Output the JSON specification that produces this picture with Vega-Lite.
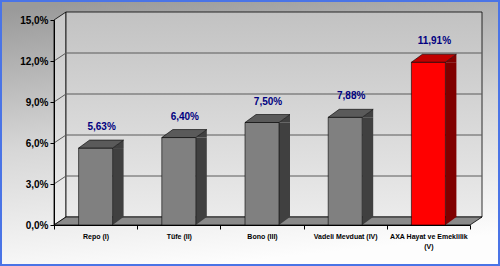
{
  "$schema": "https://vega.github.io/schema/vega-lite/v6.json",
  "width": 416,
  "height": 205,
  "autosize": {"type": "none"},
  "padding": {"left": 54, "top": 20, "right": 30, "bottom": 41},
  "background": "#ffffff",
  "config": {"view": {"stroke": null}},
  "datasets": {
    "getiri": [
      {"kategori": "Repo (I)", "getiri": 5.63},
      {"kategori": "Tüfe (II)", "getiri": 6.40},
      {"kategori": "Bono (III)", "getiri": 7.50},
      {"kategori": "Vadeli Mevduat (IV)", "getiri": 7.88},
      {"kategori": "AXA Hayat ve Emeklilik (V)", "getiri": 11.91}
    ],
    "cizgiler": [
      {"deger": 0}, {"deger": 3}, {"deger": 6}, {"deger": 9}, {"deger": 12}, {"deger": 15}
    ]
  },
  "encoding": {
    "y": {
      "field": "deger", "type": "quantitative",
      "scale": {"domain": [0, 15], "nice": false},
      "axis": {
        "title": null, "values": [0, 3, 6, 9, 12, 15], "grid": false, "tickSize": 4,
        "tickColor": "#000000", "domainColor": "#000000", "labelFont": "Liberation Sans",
        "labelFontWeight": "bold", "labelFontSize": 10, "labelColor": "#000000", "labelPadding": 2,
        "zindex": 1,
        "labelExpr": "replace(format(datum.value, '.1f'), '.', ',') + '%'"
      }
    }
  },
  "layer": [
    {
      "data": {"name": "cizgiler"},
      "transform": [{"filter": "datum.deger == 0"}],
      "mark": {
        "type": "point", "shape": "M -54 -225 H 446 V 41 H -54 Z", "size": 4, "filled": true, "opacity": 1,
        "fill": {"gradient": "linear", "x1": 0.2, "y1": 0, "x2": 0.4, "y2": 1,
          "stops": [{"offset": 0, "color": "#9a9a9a"}, {"offset": 0.5, "color": "#d6d6d6"}, {"offset": 1, "color": "#fdfdfd"}]},
        "stroke": "#4a74e6", "strokeWidth": 4
      },
      "encoding": {"x": {"value": 0}}
    },
    {
      "data": {"name": "cizgiler"},
      "transform": [{"filter": "datum.deger == 0"}],
      "mark": {
        "type": "point", "shape": "M 0 0 V -205 L 12 -213 V -8 Z", "size": 4, "filled": true, "opacity": 1,
        "fill": {"gradient": "linear", "x1": 0, "y1": 0, "x2": 0, "y2": 1,
          "stops": [{"offset": 0, "color": "#c8c8c8"}, {"offset": 1, "color": "#efefef"}]},
        "stroke": "#000000", "strokeWidth": 0.8
      },
      "encoding": {"x": {"value": 0}}
    },
    {
      "data": {"name": "cizgiler"},
      "transform": [{"filter": "datum.deger == 0"}],
      "mark": {
        "type": "point", "shape": "M 12 -8 V -213 H 428 V -8 Z", "size": 4, "filled": true, "opacity": 1,
        "fill": {"gradient": "linear", "x1": 0, "y1": 0, "x2": 0, "y2": 1,
          "stops": [{"offset": 0, "color": "#c2c2c2"}, {"offset": 1, "color": "#ebebeb"}]},
        "stroke": "#000000", "strokeWidth": 0.8
      },
      "encoding": {"x": {"value": 0}}
    },
    {
      "data": {"name": "cizgiler"},
      "transform": [{"filter": "datum.deger == 0"}],
      "mark": {
        "type": "point", "shape": "M 0 0 H 416 L 428 -8 H 12 Z", "size": 4, "filled": true, "opacity": 1,
        "fill": "#8a8a8a", "stroke": "#000000", "strokeWidth": 0.8
      },
      "encoding": {"x": {"value": 0}}
    },
    {
      "data": {"name": "cizgiler"},
      "transform": [{"filter": "datum.deger > 0 && datum.deger < 15"}],
      "mark": {
        "type": "point", "shape": "M 0 0 L 12 -8 H 428", "size": 4, "filled": false, "opacity": 1,
        "stroke": "#5a5a5a", "strokeWidth": 1
      },
      "encoding": {"x": {"value": 0}}
    },
    {
      "data": {"name": "getiri"},
      "encoding": {
        "x": {
          "field": "kategori", "type": "nominal", "sort": null,
          "scale": {"paddingInner": 0, "paddingOuter": 0},
          "axis": {
            "title": null, "labelAngle": 0, "tickBand": "extent", "tickSize": 4, "tickColor": "#000000",
            "domainColor": "#000000", "labelFont": "Liberation Sans", "labelFontWeight": "bold",
            "labelFontSize": 7, "labelColor": "#000000", "labelPadding": 3, "labelLineHeight": 10,
            "labelLimit": 0, "zindex": 1,
            "labelExpr": "datum.value == 'AXA Hayat ve Emeklilik (V)' ? ['AXA Hayat ve Emeklilik', '(V)'] : datum.label"
          }
        },
        "y": {"field": "getiri", "type": "quantitative"}
      },
      "layer": [
        {
          "mark": {"type": "bar", "width": 11, "xOffset": 22.5, "y2Offset": -8},
          "encoding": {
            "y2": {"datum": 0},
            "fill": {"condition": {"test": "datum.kategori == 'AXA Hayat ve Emeklilik (V)'", "value": "#800000"}, "value": "#404040"}
          }
        },
        {
          "mark": {"type": "point", "shape": "M 17 0 L 28 -8 V 0 Z", "size": 4, "filled": true, "opacity": 1, "strokeWidth": 0},
          "encoding": {
            "fill": {"condition": {"test": "datum.kategori == 'AXA Hayat ve Emeklilik (V)'", "value": "#800000"}, "value": "#404040"}
          }
        },
        {
          "mark": {
            "type": "point", "shape": "M 17 -8.5 V 0 L 28.5 -8.5 Z", "size": 4, "filled": true, "opacity": 1, "strokeWidth": 0,
            "yOffset": {"expr": "scale('y', 0) - scale('y', datum.getiri)"}
          },
          "encoding": {
            "fill": {"condition": {"test": "datum.kategori == 'AXA Hayat ve Emeklilik (V)'", "value": "#800000"}, "value": "#404040"}
          }
        },
        {
          "mark": {"type": "bar", "width": 34, "stroke": "#000000", "strokeWidth": 0.6},
          "encoding": {
            "y2": {"datum": 0},
            "fill": {"condition": {"test": "datum.kategori == 'AXA Hayat ve Emeklilik (V)'", "value": "#ff0000"}, "value": "#808080"}
          }
        },
        {
          "mark": {"type": "point", "shape": "M -17 0 H 17 L 28 -8 H -6 Z", "size": 4, "filled": true, "opacity": 1, "stroke": "#000000", "strokeWidth": 0.6},
          "encoding": {
            "fill": {"condition": {"test": "datum.kategori == 'AXA Hayat ve Emeklilik (V)'", "value": "#c00000"}, "value": "#5a5a5a"}
          }
        },
        {
          "mark": {
            "type": "text", "dx": 6, "dy": -21, "baseline": "middle", "align": "center",
            "font": "Liberation Sans", "fontWeight": "bold", "fontSize": 10, "color": "#000080",
            "text": {"expr": "replace(format(datum.getiri, '.2f'), '.', ',') + '%'"}
          }
        }
      ]
    }
  ]
}
